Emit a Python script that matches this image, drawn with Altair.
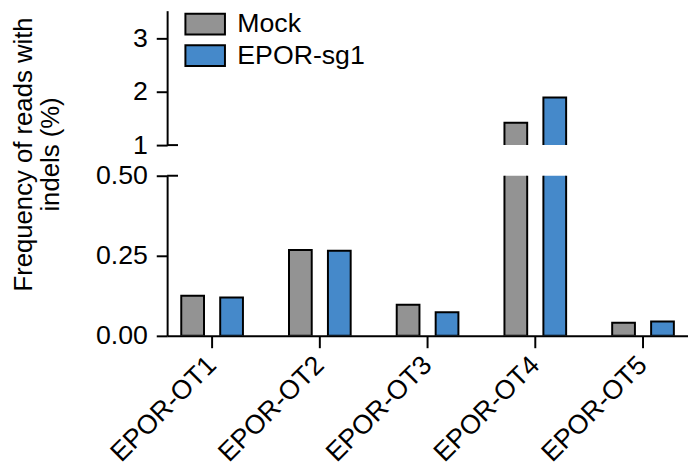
import altair as alt
import pandas as pd

targets = ["EPOR-OT1", "EPOR-OT2", "EPOR-OT3", "EPOR-OT4", "EPOR-OT5"]
mock_values = [0.125, 0.268, 0.097, 1.42, 0.041]
sg1_values = [0.120, 0.266, 0.074, 1.89, 0.045]
groups = ["Mock", "EPOR-sg1"]
colors = ["#939393", "#4589CA"]
upper_ticks = [1, 2, 3]
lower_ticks = [0, 0.25, 0.5]
upper_domain = [1, 3.5185]
lower_domain = [0, 0.5]
y_title = ["Frequency of reads with", "indels (%)"]

rows = []
for t, m, s in zip(targets, mock_values, sg1_values):
    rows.append({"target": t, "group": groups[0], "value": m})
    rows.append({"target": t, "group": groups[1], "value": s})
df = pd.DataFrame(rows)

FONT = "Liberation Sans"
FS = 27
W = 527

x_scale = alt.Scale(domain=targets, paddingInner=0.277, paddingOuter=0.056)
xoff = alt.XOffset("group:N", sort=groups,
                   scale=alt.Scale(domain=groups, paddingInner=0.416, paddingOuter=0.208))
color_scale = alt.Scale(domain=groups, range=colors)

legend = alt.Legend(
    orient="none", legendX=25, legendY=0, title=None,
    symbolType="M-2,-1.05H2V1.05H-2Z", symbolSize=400,
    symbolStrokeColor="black", symbolStrokeWidth=2, symbolOpacity=1,
    labelFont=FONT, labelFontSize=FS, labelColor="black",
    labelOffset=19, rowPadding=3,
)

upper_bars = alt.Chart(df).transform_filter("datum.value > 1").mark_bar(
    stroke="black", strokeWidth=2, clip=True
).encode(
    x=alt.X("target:N", sort=targets, scale=x_scale, axis=None),
    xOffset=xoff,
    y=alt.Y("value:Q", scale=alt.Scale(domain=upper_domain, zero=False, nice=False),
            axis=alt.Axis(values=upper_ticks, format="d", title=None)),
    y2=alt.datum(0),
    color=alt.Color("group:N", sort=groups, scale=color_scale, legend=legend),
)
upper_cap = alt.Chart(pd.DataFrame({"v": [1]})).mark_rule(
    color="black", strokeWidth=2
).encode(y=alt.datum(1), x=alt.value(0), x2=alt.value(11))
upper = alt.layer(upper_bars, upper_cap).properties(width=W, height=136)

lower_bars = alt.Chart(df).mark_bar(stroke="black", strokeWidth=2, clip=True).encode(
    x=alt.X("target:N", sort=targets, scale=x_scale,
            axis=alt.Axis(title=None, labelAngle=-45, labelAlign="right",
                          labelBaseline="middle", labelPadding=13, tickSize=12)),
    xOffset=xoff,
    y=alt.Y("value:Q", scale=alt.Scale(domain=lower_domain, nice=False),
            axis=alt.Axis(values=lower_ticks, format=".2f", title=y_title,
                          titleX=-145, titleY=-22, titleAngle=-90,
                          titleAlign="center", titleBaseline="middle",
                          titleFontSize=26, titleLineHeight=27)),
    color=alt.Color("group:N", sort=groups, scale=color_scale, legend=None),
)
lower_cap = alt.Chart(pd.DataFrame({"v": [0.5]})).mark_rule(
    color="black", strokeWidth=2
).encode(y=alt.datum(0.5), x=alt.value(0), x2=alt.value(11))
lower = alt.layer(lower_bars, lower_cap).properties(width=W, height=162)

chart = alt.vconcat(upper, lower, spacing=31, bounds="flush").resolve_legend(
    color="independent"
).properties(padding={"left": 3, "top": 0, "right": 0, "bottom": 0}).configure_view(
    stroke=None
).configure_axis(
    domainColor="black", domainWidth=2, tickColor="black", tickWidth=2,
    tickSize=11, labelPadding=9, labelColor="black", labelFont=FONT,
    labelFontSize=FS, titleFont=FONT, titleFontSize=26, titleFontWeight="normal",
    titleColor="black", grid=False,
)

chart.save("out.html", embed_options={"renderer": "svg", "actions": False})
